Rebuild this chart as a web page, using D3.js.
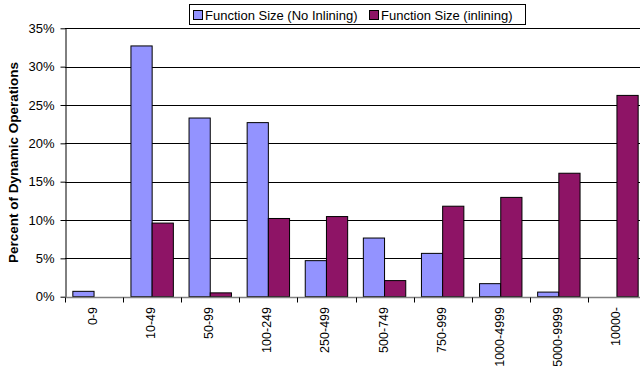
<!DOCTYPE html>
<html>
<head>
<meta charset="utf-8">
<script src="https://cdn.jsdelivr.net/npm/d3@7"></script>
<style>
  html, body { margin: 0; padding: 0; background: #fff; }
  svg { display: block; font-family: Arial, "Liberation Sans", sans-serif; }
</style>
</head>
<body>
<svg id="chart" width="640" height="370"></svg>
<script>
// Function size buckets (dynamic operations)
const categories = ["0-9", "10-49", "50-99", "100-249", "250-499", "500-749", "750-999", "1000-4999", "5000-9999", "10000-"];
const seriesNames = ["Function Size (No Inlining)", "Function Size (inlining)"];
const noInlining = [0.7, 32.7, 23.3, 22.7, 4.7, 7.65, 5.65, 1.7, 0.6, 0];
const inlining   = [0, 9.6, 0.5, 10.2, 10.45, 2.1, 11.8, 12.95, 16.1, 26.25];
const yTicks = [0, 5, 10, 15, 20, 25, 30, 35];
const colors = ["#9393FF", "#8E1466"];
const FONT = "Arial, 'Liberation Sans', sans-serif";

const svg = d3.select("#chart");
const plot = { left: 65, right: 646, top: 28.3, bottom: 296.7 };

const x = d3.scaleBand().domain(categories).range([plot.left, plot.right]).paddingInner(0).paddingOuter(0);
const x1 = d3.scaleBand().domain([0, 1]).range([0, x.bandwidth()]).paddingOuter(0.37).paddingInner(0);
const y = d3.scaleLinear().domain([0, 35]).range([plot.bottom, plot.top]);

// horizontal gridlines
svg.append("g")
  .selectAll("line")
  .data(yTicks.filter(d => d > 0))
  .join("line")
  .attr("x1", plot.left).attr("x2", 640)
  .attr("y1", d => Math.round(y(d)) + 0.5).attr("y2", d => Math.round(y(d)) + 0.5)
  .attr("stroke", "#000").attr("stroke-width", 1);

// bars
const data = categories.map((c, i) => ({ c, vals: [noInlining[i], inlining[i]] }));
const groups = svg.append("g").selectAll("g")
  .data(data).join("g")
  .attr("transform", d => `translate(${x(d.c)},0)`);
groups.selectAll("rect")
  .data(d => d.vals.map((v, k) => ({ v, k })).filter(e => e.v > 0))
  .join("rect")
  .attr("x", d => x1(d.k))
  .attr("width", x1.bandwidth())
  .attr("y", d => y(d.v))
  .attr("height", d => y(0) - y(d.v))
  .attr("fill", d => colors[d.k])
  .attr("stroke", "#000").attr("stroke-width", 1);

// y axis
const yAxis = d3.axisLeft(y).tickValues(yTicks).tickFormat(d => d + "%").tickSize(5).tickSizeOuter(0);
const gy = svg.append("g").attr("transform", `translate(${plot.left + 0.5},0)`).call(yAxis)
  .attr("font-family", FONT).attr("font-size", 13);
gy.select(".domain").attr("stroke", "#000");
gy.selectAll(".tick line").attr("stroke", "#000");
gy.selectAll(".tick text").attr("fill", "#000").attr("x", -11);

// x axis: tick marks between categories, labels rotated
const xAxisY = Math.round(y(0)) + 0.5;
svg.append("line")
  .attr("x1", plot.left).attr("x2", 640)
  .attr("y1", xAxisY).attr("y2", xAxisY)
  .attr("stroke", "#808080").attr("stroke-width", 1.5);
svg.append("g").selectAll("line")
  .data(categories)
  .join("line")
  .attr("x1", d => Math.round(x(d)) + 0.5).attr("x2", d => Math.round(x(d)) + 0.5)
  .attr("y1", xAxisY).attr("y2", xAxisY + 5)
  .attr("stroke", "#000");
svg.append("g").selectAll("text")
  .data(categories)
  .join("text")
  .attr("transform", d => `translate(${x(d) + x.bandwidth() / 2 + 3},307) rotate(-90)`)
  .attr("text-anchor", "end")
  .attr("font-size", 12.5)
  .attr("fill", "#000")
  .text(d => d);

// y axis title
svg.append("text")
  .attr("transform", `translate(18,${(plot.top + plot.bottom) / 2}) rotate(-90)`)
  .attr("text-anchor", "middle")
  .attr("font-size", 13.5)
  .attr("font-weight", "bold")
  .attr("fill", "#000")
  .text("Percent of Dynamic Operations");

// legend
const legend = svg.append("g");
legend.append("rect")
  .attr("x", 189.5).attr("y", 4.5).attr("width", 336).attr("height", 20)
  .attr("fill", "#fff").attr("stroke", "#000");
const legendItems = [{ x: 193, name: seriesNames[0], k: 0 }, { x: 369, name: seriesNames[1], k: 1 }];
legendItems.forEach(it => {
  legend.append("rect")
    .attr("x", it.x + 0.5).attr("y", 10.5).attr("width", 9).attr("height", 9)
    .attr("fill", colors[it.k]).attr("stroke", "#000");
  legend.append("text")
    .attr("x", it.x + 12).attr("y", 19.5)
    .attr("font-size", 13).attr("fill", "#000")
    .text(it.name);
});
</script>
</body>
</html>
